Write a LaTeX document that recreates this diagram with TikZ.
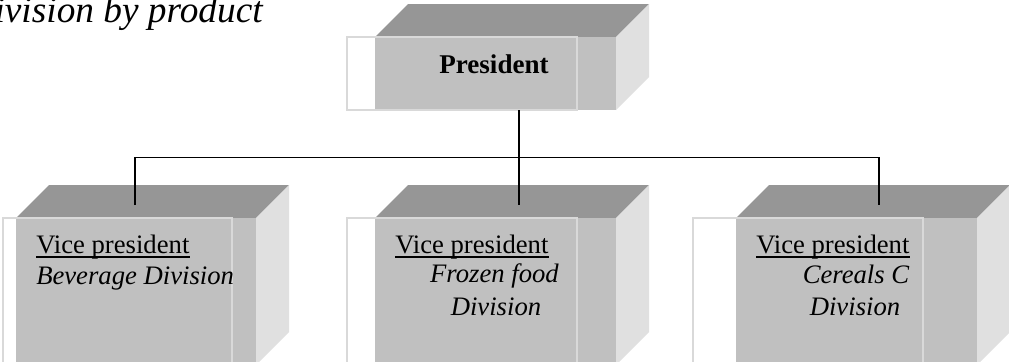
\documentclass[tikz,border=0pt]{standalone}
\usepackage{fontspec}
\setmainfont{Liberation Serif}

\definecolor{topgray}{HTML}{969696}
\definecolor{frontgray}{HTML}{C0C0C0}
\definecolor{sidegray}{HTML}{E0E0E0}
\definecolor{rimgray}{HTML}{D9D9D9}

% A shaded block: front face #1..#2 (x), #3..#4 (y), depth 33,
% with a light outline frame from #5 to #6 laid over it.
\newcommand\orgcube[6]{%
  \fill[topgray]   (#1,#3) -- ++(33,-33) -- (#2+33,#3-33) -- (#2,#3) -- cycle;
  \fill[sidegray]  (#2,#3) -- (#2+33,#3-33) -- (#2+33,#4-33) -- (#2,#4) -- cycle;
  \fill[frontgray] (#1,#3) rectangle (#2,#4);
  \draw[rimgray, line width=1.3pt] (#5,#3) rectangle (#6,#4);
}

\tikzset{
  vptext/.style={font=\fontsize{20}{24}\selectfont, inner sep=0pt, anchor=base west},
  divtext/.style={font=\fontsize{20}{24}\selectfont\itshape, inner sep=0pt, anchor=base},
  uline/.style={line width=0.8pt, black},
  link/.style={line width=1.3pt, black},
}

\begin{document}
\begin{tikzpicture}[x=0.75pt, y=-0.75pt]
  \fill[white] (0,0) rectangle (1009,361);
  \useasboundingbox (0,0) rectangle (1009,361);
  \clip (0,0) rectangle (1009,361);

  % heading
  \node[font=\fontsize{28}{34}\selectfont\itshape, inner sep=0pt, anchor=base east]
    (heading) at (263,22) {Division by product};

  % blocks
  \orgcube{375}{616}{37}{110}{347}{577}
  \orgcube{16}{256}{218}{365}{3}{232}
  \orgcube{375}{616}{218}{365}{347}{577}
  \orgcube{736}{977}{218}{365}{693}{923}

  % president
  \node[font=\fontsize{20.3}{24}\selectfont\bfseries, inner sep=0pt, anchor=base]
    (pres) at (494,73) {President};

  % vice presidents
  \node[vptext] (vp1) at (36,253) {Vice president};
  \node[vptext, font=\fontsize{20}{24}\selectfont\itshape] (d1) at (36,284) {Beverage Division};

  \node[vptext] (vp2) at (395,253) {Vice president};
  \node[divtext] (d2a) at (494.5,282) {Frozen food};
  \node[divtext] (d2b) at (496,315) {Division};

  \node[vptext] (vp3) at (756,253) {Vice president};
  \node[divtext] (d3a) at (856,283) {Cereals C};
  \node[divtext] (d3b) at (855,315) {Division};

  \foreach \v in {vp1,vp2,vp3}
    \draw[uline] ([yshift=-3pt]\v.base west) -- ([yshift=-3pt]\v.base east);

  % reporting lines
  \coordinate (ptop) at (519,110);
  \coordinate (b1) at (135,205);
  \coordinate (b2) at (519,205);
  \coordinate (b3) at (879,205);
  \coordinate (bus) at (0,157.5);
  \draw[link] (ptop) -- (b2);
  \draw[link] (b1) -- (b1 |- bus) -- (b3 |- bus) -- (b3);
\end{tikzpicture}
\end{document}
